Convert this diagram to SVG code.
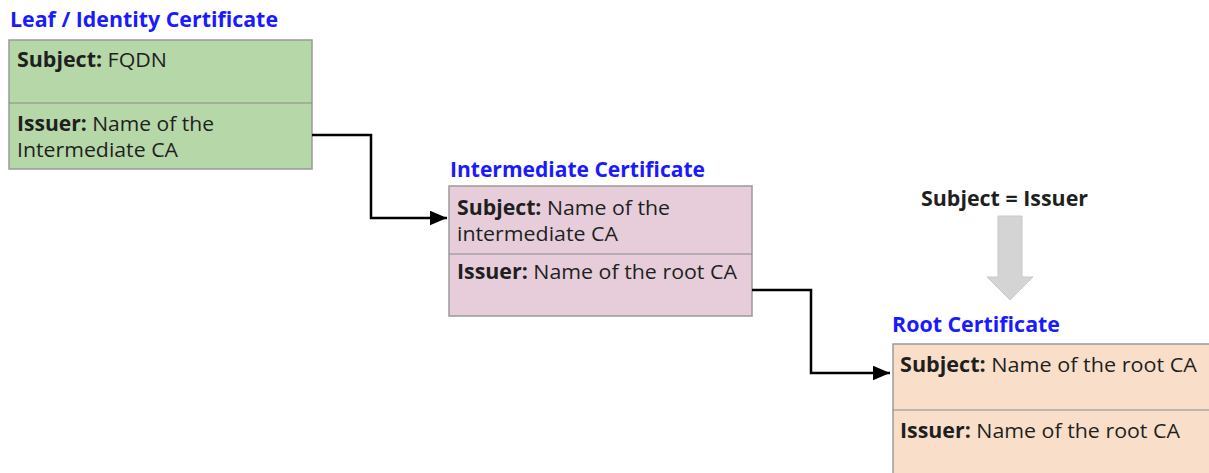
<svg xmlns="http://www.w3.org/2000/svg" width="1209" height="473" viewBox="0 0 1209 473">
  <defs>
    <style>
      .title { font-family: "Open Sans", Roboto, "Liberation Sans", sans-serif; font-weight: bold; font-size: 21px; fill: #1a1aff; }
      .txt { font-family: "Open Sans", Roboto, "Liberation Sans", sans-serif; font-size: 20.5px; fill: #1f1f1f; }
      .b { font-weight: bold; }
      .box { stroke: #9a9a9a; stroke-width: 1.5; }
      .div { stroke: #8a8a8a; stroke-width: 1.2; }
      .conn { fill: none; stroke: #000; stroke-width: 2.5; }
    </style>
    <marker id="arrow" viewBox="0 0 10 10" refX="10" refY="5" markerWidth="7" markerHeight="6" markerUnits="strokeWidth" orient="auto" preserveAspectRatio="none">
      <path d="M0,0 L10,5 L0,10 z" fill="#000"/>
    </marker>
  </defs>

  <rect width="1209" height="473" fill="#fff"/>

  <!-- Leaf certificate -->
  <g id="leaf">
    <text class="title" x="10" y="27" textLength="268" lengthAdjust="spacingAndGlyphs">Leaf / Identity Certificate</text>
    <rect class="box" x="9" y="40" width="303" height="129" fill="#b6d7a8"/>
    <line class="div" x1="9" y1="103" x2="312" y2="103"/>
    <text class="txt" x="17" y="67" textLength="150" lengthAdjust="spacingAndGlyphs"><tspan class="b">Subject:</tspan> FQDN</text>
    <text class="txt" x="17" y="131" textLength="197" lengthAdjust="spacingAndGlyphs"><tspan class="b">Issuer:</tspan> Name of the</text>
    <text class="txt" x="17" y="157" textLength="161" lengthAdjust="spacingAndGlyphs">Intermediate CA</text>
  </g>

  <!-- Intermediate certificate -->
  <g id="intermediate">
    <text class="title" x="450" y="177" textLength="255" lengthAdjust="spacingAndGlyphs">Intermediate Certificate</text>
    <rect class="box" x="449" y="186" width="303" height="130" fill="#e6cdd9"/>
    <line class="div" x1="449" y1="254" x2="752" y2="254"/>
    <text class="txt" x="457" y="215" textLength="213" lengthAdjust="spacingAndGlyphs"><tspan class="b">Subject:</tspan> Name of the</text>
    <text class="txt" x="457" y="241" textLength="161" lengthAdjust="spacingAndGlyphs">intermediate CA</text>
    <text class="txt" x="457" y="279" textLength="280" lengthAdjust="spacingAndGlyphs"><tspan class="b">Issuer:</tspan> Name of the root CA</text>
  </g>

  <!-- Root certificate -->
  <g id="root">
    <text class="title" x="892" y="332" textLength="168" lengthAdjust="spacingAndGlyphs">Root Certificate</text>
    <rect class="box" x="893" y="344" width="320" height="140" fill="#f9dfca"/>
    <line class="div" x1="893" y1="410" x2="1209" y2="410"/>
    <text class="txt" x="900" y="372" textLength="297" lengthAdjust="spacingAndGlyphs"><tspan class="b">Subject:</tspan> Name of the root CA</text>
    <text class="txt" x="900" y="438" textLength="280" lengthAdjust="spacingAndGlyphs"><tspan class="b">Issuer:</tspan> Name of the root CA</text>
  </g>

  <!-- Self-signed note -->
  <g id="self-signed">
    <text class="txt b" x="921" y="206" textLength="167" lengthAdjust="spacingAndGlyphs">Subject = Issuer</text>
    <path d="M998,216 H1022 V277 H1033 L1010,300 L987,277 H998 Z" fill="#d4d4d4" stroke="#c8c8c8" stroke-width="1"/>
  </g>

  <!-- Connectors -->
  <g id="connectors">
    <path class="conn" d="M312,135 H371 V218 H447" marker-end="url(#arrow)"/>
    <path class="conn" d="M752,290 H811 V373 H890" marker-end="url(#arrow)"/>
  </g>
</svg>
